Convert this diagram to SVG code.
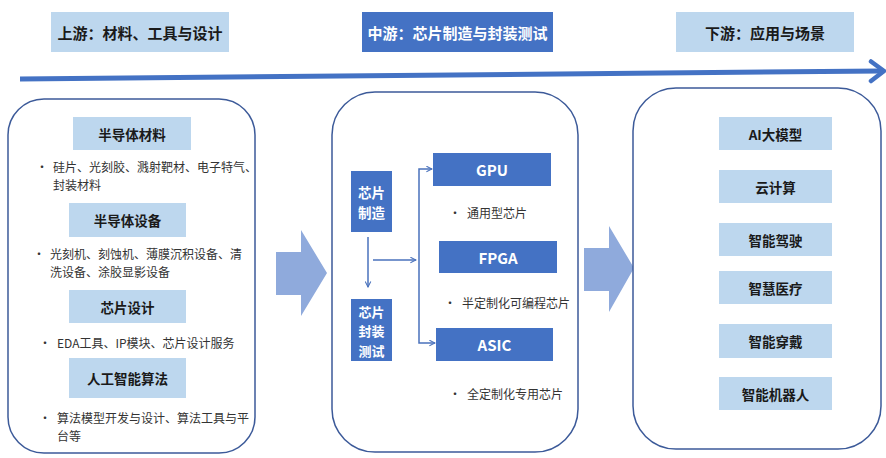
<svg xmlns="http://www.w3.org/2000/svg" width="886" height="458" viewBox="0 0 886 458">
<defs>
<style>
.t{font-family:"Noto Sans CJK SC","Noto Sans",sans-serif;dominant-baseline:central}
.hd{font-size:15px;font-weight:bold;text-anchor:middle;fill:#1a1a1a}
.hdw{font-size:15px;font-weight:bold;text-anchor:middle;fill:#ffffff}
.sec{font-size:13.5px;font-weight:bold;text-anchor:middle;fill:#1a1a1a}
.bl{font-size:12px;fill:#333333}
.wb{font-size:13.5px;font-weight:bold;text-anchor:middle;fill:#ffffff}
.wbs{font-size:13px;font-weight:bold;text-anchor:middle;fill:#ffffff}
.chip{font-size:15px;font-weight:bold;text-anchor:middle;fill:#ffffff}
.lb{fill:#BDD7EE}
.db{fill:#4472C4}
.panel{fill:#ffffff;stroke:#3C5A99;stroke-width:1.5}
.conn{fill:none;stroke:#4A72BC;stroke-width:1.5}
.big{fill:#8FAADC}
</style>
<marker id="ah" viewBox="0 0 10 10" refX="9" refY="5" markerWidth="7" markerHeight="7" markerUnits="userSpaceOnUse" orient="auto">
<path d="M1,1 L9,5 L1,9" fill="none" stroke="#4A72BC" stroke-width="1.5"/>
</marker>
</defs>
<rect width="886" height="458" fill="#ffffff"/>

<g id="header-up"><rect class="lb" x="51" y="12" width="178" height="40"/><text class="t hd" x="140" y="32">上游：材料、工具与设计</text></g>
<g id="header-mid"><rect class="db" x="362" y="12" width="191" height="40"/><text class="t hdw" x="457.5" y="32">中游：芯片制造与封装测试</text></g>
<g id="header-down"><rect class="lb" x="676" y="12" width="178" height="40"/><text class="t hd" x="765" y="32">下游：应用与场景</text></g>

<g id="timeline">
<line x1="20" y1="79" x2="881" y2="71" stroke="#4472C4" stroke-width="5"/>
<polyline points="871,61.5 884,71 871,81" fill="none" stroke="#4472C4" stroke-width="4.5" stroke-linejoin="round" stroke-linecap="round"/>
</g>

<g id="panel-up">
<rect class="panel" x="8" y="99" width="247" height="354" rx="36"/>
<g id="sec-material"><rect class="lb" x="73" y="117" width="118" height="33"/><text class="t sec" x="132" y="133.5">半导体材料</text></g>
<text class="t bl" x="36" y="166">•</text>
<text class="t bl" x="53" y="166">硅片、光刻胶、溅射靶材、电子特气、</text>
<text class="t bl" x="53" y="184">封装材料</text>
<g id="sec-equip"><rect class="lb" x="69" y="203" width="117" height="34"/><text class="t sec" x="127.5" y="220">半导体设备</text></g>
<text class="t bl" x="33" y="253">•</text>
<text class="t bl" x="50" y="253">光刻机、刻蚀机、薄膜沉积设备、清</text>
<text class="t bl" x="50" y="271">洗设备、涂胶显影设备</text>
<g id="sec-design"><rect class="lb" x="69" y="290" width="117" height="33"/><text class="t sec" x="127.5" y="306.5">芯片设计</text></g>
<text class="t bl" x="39" y="342">•</text>
<text class="t bl" x="57" y="342">EDA工具、IP模块、芯片设计服务</text>
<g id="sec-ai"><rect class="lb" x="69" y="358" width="117" height="40"/><text class="t sec" x="127.5" y="378">人工智能算法</text></g>
<text class="t bl" x="39" y="417">•</text>
<text class="t bl" x="57" y="417">算法模型开发与设计、算法工具与平</text>
<text class="t bl" x="57" y="435">台等</text>
</g>

<g id="arrow-1"><polygon class="big" points="276,252 301,252 301,230 327,273 301,316 301,295 276,295"/></g>

<g id="panel-mid">
<rect class="panel" x="332" y="92" width="246" height="360" rx="43"/>
</g>
<g id="chip-fab"><rect class="db" x="351" y="171" width="41" height="61"/><text class="t wb" x="371.5" y="192">芯片</text><text class="t wb" x="371.5" y="212">制造</text></g>
<g id="chip-pkg"><rect class="db" x="351" y="299" width="41" height="62"/><text class="t wbs" x="371.5" y="311">芯片</text><text class="t wbs" x="371.5" y="330.5">封装</text><text class="t wbs" x="371.5" y="350">测试</text></g>
<g id="gpu"><rect class="db" x="433" y="153" width="118" height="33"/><text class="t chip" x="492" y="169.5">GPU</text></g>
<text class="t bl" x="449" y="212">•</text>
<text class="t bl" x="467" y="212">通用型芯片</text>
<g id="fpga"><rect class="db" x="439" y="241" width="118" height="32"/><text class="t chip" x="498" y="257">FPGA</text></g>
<text class="t bl" x="444" y="302">•</text>
<text class="t bl" x="462" y="302">半定制化可编程芯片</text>
<g id="asic"><rect class="db" x="436" y="328" width="117" height="33"/><text class="t chip" x="494.5" y="344.5">ASIC</text></g>
<text class="t bl" x="449" y="393">•</text>
<text class="t bl" x="467" y="393">全定制化专用芯片</text>

<g id="connectors">
<path class="conn" d="M368,237 L368,287" marker-end="url(#ah)"/>
<path class="conn" d="M373,260 L416,260" marker-end="url(#ah)"/>
<path class="conn" d="M419,260 L419,169 L432,169" marker-end="url(#ah)"/>
<path class="conn" d="M419,260 L419,343 L435,343" marker-end="url(#ah)"/>
</g>

<g id="arrow-2"><polygon class="big" points="584,248 609,248 609,226 634,268 609,312 609,291 584,291"/></g>

<g id="panel-down">
<rect class="panel" x="633" y="88" width="248" height="361" rx="43"/>
</g>
<g id="app-ai"><rect class="lb" x="719" y="117" width="113" height="33"/><text class="t sec" x="775.5" y="133.5">AI大模型</text></g>
<g id="app-cloud"><rect class="lb" x="719" y="170" width="113" height="33"/><text class="t sec" x="775.5" y="186.5">云计算</text></g>
<g id="app-drive"><rect class="lb" x="719" y="223" width="113" height="33"/><text class="t sec" x="775.5" y="239.5">智能驾驶</text></g>
<g id="app-med"><rect class="lb" x="719" y="271" width="113" height="33"/><text class="t sec" x="775.5" y="287.5">智慧医疗</text></g>
<g id="app-wear"><rect class="lb" x="719" y="324" width="113" height="34"/><text class="t sec" x="775.5" y="341">智能穿戴</text></g>
<g id="app-robot"><rect class="lb" x="719" y="377" width="113" height="33"/><text class="t sec" x="775.5" y="393.5">智能机器人</text></g>
</svg>
